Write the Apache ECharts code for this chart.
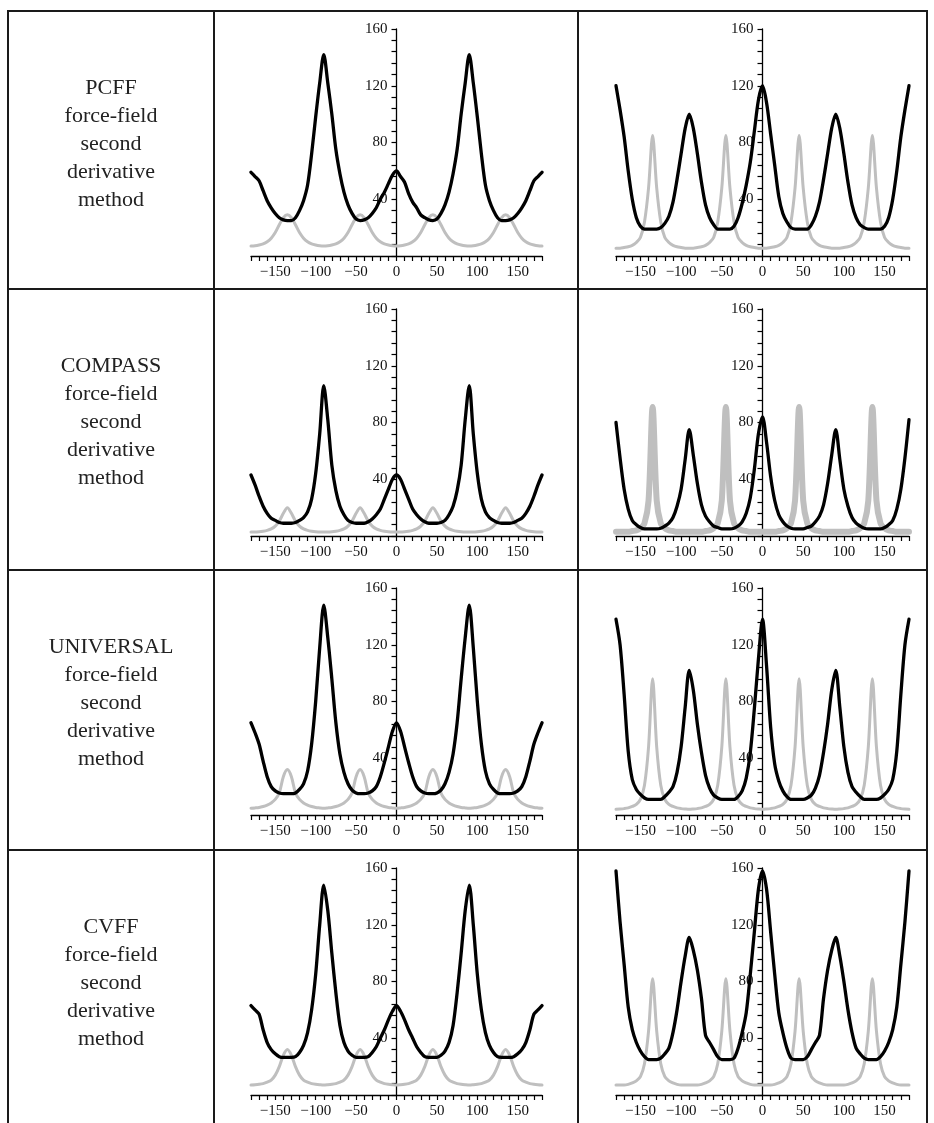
<!DOCTYPE html>
<html><head><meta charset="utf-8">
<script src="https://cdn.jsdelivr.net/npm/echarts@6/dist/echarts.min.js"></script>
<style>html,body{margin:0;padding:0;background:#fff}#c{width:934px;height:1123px}</style>
</head><body><div id="c"></div>
<script>
// ---------- data ----------
const angles = [
  -180,-175,-170,-165,-160,-155,-150,-145,-140,-135,-130,-125,-120,-115,-110,-105,-100,-95,
  -90,-85,-80,-75,-70,-65,-60,-55,-50,-45,-40,-35,-30,-25,-20,-15,-10,-5,
  0,5,10,15,20,25,30,35,40,45,50,55,60,65,70,75,80,85,
  90,95,100,105,110,115,120,125,130,135,140,145,150,155,160,165,170,175,180
];
const forceFields = ['PCFF', 'COMPASS', 'UNIVERSAL', 'CVFF'];
const descLines = ['force-field', 'second', 'derivative', 'method'];
const xTickLabels = [-150, -100, -50, 0, 50, 100, 150];
const yTickLabels = [40, 80, 120, 160];

// PCFF
const pcffLeftBlack = [
  59,56,53,46,39,34,30,27,25.5,25,25,27,32,39,50,72,98,122,
  142,122,100,75,58,45,36,30,26,25,25.5,27,30,34,40,45,51,57,
  60,56,52,44,38,34,29,27,25.5,25,26,30,36,45,58,75,100,122,
  142,122,98,72,50,39,32,27,25,25,25.5,27,30,34,39,46,53,56,59
];
const pcffLeftGray = [
  7,7.2,7.7,8.5,10,12.5,16.5,22,27,29,27,22,16.5,12.5,10,8.5,7.7,7.2,7,
  7.2,7.7,8.5,10,12.5,16.5,22,27,29,27,22,16.5,12.5,10,8.5,7.7,7.2,7,
  7.2,7.7,8.5,10,12.5,16.5,22,27,29,27,22,16.5,12.5,10,8.5,7.7,7.2,7,
  7.2,7.7,8.5,10,12.5,16.5,22,27,29,27,22,16.5,12.5,10,8.5,7.7,7.2,7
];
const pcffRightBlack = [
  120,103,84,60,40,27,21,19,19,19,19,20,23,28,38,54,72,90,
  100,90,72,52,36,27,22,19,19,19,19,21,27,37,50,66,88,110,
  120,108,86,64,42,30,24,20,19,19,19,19,22,28,38,54,72,90,
  100,90,72,52,36,27,22,20,19,19,19,19,21,27,40,60,84,103,120
];
const pcffRightGray = [
  5.5,5.5,6,6.5,7.5,9.5,13,24,48,85,48,24,13,9.5,7.5,6.5,6,5.5,5.5,
  5.5,6,6.5,7.5,9.5,13,24,48,85,48,24,13,9.5,7.5,6.5,6,5.5,5.5,
  5.5,6,6.5,7.5,9.5,13,24,48,85,48,24,13,9.5,7.5,6.5,6,5.5,5.5,
  5.5,6,6.5,7.5,9.5,13,24,48,85,48,24,13,9.5,7.5,6.5,6,5.5,5.5
];
// COMPASS
const compassLeftBlack = [
  43,36,28,21,16,12.5,11,9.5,9,9,9,9.5,11,13,17,26,44,72,
  106,82,50,32,21,15,11,9.5,9,9,9,10,12,15,19,26,33,40,
  43,40,33,26,19,15,12,10,9,9,9,9.5,11,15,21,32,50,82,
  106,72,44,26,17,13,11,9.5,9,9,9,9.5,11,12.5,16,21,28,36,43
];
const compassLeftGray = [
  2.8,2.8,3,3.4,4,5,7,10.5,16,20,16,10.5,7,5,4,3.4,3,2.8,2.8,
  2.8,3,3.4,4,5,7,10.5,16,20,16,10.5,7,5,4,3.4,3,2.8,2.8,
  2.8,3,3.4,4,5,7,10.5,16,20,16,10.5,7,5,4,3.4,3,2.8,2.8,
  2.8,3,3.4,4,5,7,10.5,16,20,16,10.5,7,5,4,3.4,3,2.8,2.8
];
const compassRightBlack = [
  80,55,33,19,11,8,6,5,5,5,5,5.5,7,9,13,21,33,54,
  75,57,37,22,14,10,7,6,5,5,5,5.5,7,10,16,27,47,72,
  84,66,42,25,15,10,7,5.5,5,5,5,6,7,10,14,22,37,57,
  75,54,33,21,13,9,7,5.5,5,5,5,5,6,8,11,19,33,55,82
];
const compassRightGray = [
  3,3,3,3,3.5,4,5.5,9,25,91,25,9,5.5,4,3.5,3,3,3,3,
  3,3,3,3.5,4,5.5,9,25,91,25,9,5.5,4,3.5,3,3,3,3,
  3,3,3,3.5,4,5.5,9,25,91,25,9,5.5,4,3.5,3,3,3,3,
  3,3,3,3.5,4,5.5,9,25,91,25,9,5.5,4,3.5,3,3,3,3
];
// UNIVERSAL
const universalLeftBlack = [
  65,58,50,38,27,20,17,15.5,15,15,15,15.5,18,22,31,50,80,118,
  148,125,96,65,43,30,22,17.5,15.5,15,15,15.5,17,20,27,37,48,59,
  65,59,48,37,27,20,17,15.5,15,15,15.5,17.5,22,30,43,65,96,125,
  148,118,80,50,31,22,18,15.5,15,15,15,15.5,17,20,27,38,50,58,65
];
const universalLeftGray = [
  4.8,5,5.3,6,7,8.5,11,15.5,27,32,27,15.5,11,8.5,7,6,5.3,5,4.8,
  5,5.3,6,7,8.5,11,15.5,27,32,27,15.5,11,8.5,7,6,5.3,5,4.8,
  5,5.3,6,7,8.5,11,15.5,27,32,27,15.5,11,8.5,7,6,5.3,5,4.8,
  5,5.3,6,7,8.5,11,15.5,27,32,27,15.5,11,8.5,7,6,5.3,5,4.8
];
const universalRightBlack = [
  138,120,85,45,25,18,14.5,12,11,11,11,11,13,16,20,30,48,76,
  102,88,64,44,28,19,14,12,11,11,11,11,13,17,26,44,75,110,
  138,105,62,36,24,17,13,11,11,11,11,12,14,19,28,44,64,88,
  102,76,48,30,20,16,13,11,11,11,11,12,14.5,18,25,45,85,120,138
];
const universalRightGray = [
  4,4.2,4.5,5,6,7.5,11,21,48,96,48,21,11,7.5,6,5,4.5,4.2,4,
  4.2,4.5,5,6,7.5,11,21,48,96,48,21,11,7.5,6,5,4.5,4.2,4,
  4.2,4.5,5,6,7.5,11,21,48,96,48,21,11,7.5,6,5,4.5,4.2,4,
  4.2,4.5,5,6,7.5,11,21,48,96,48,21,11,7.5,6,5,4.5,4.2,4
];
// CVFF
const cvffLeftBlack = [
  63,60,57,46,37,32,29,27,26.5,26.5,26.5,27,30,35,44,60,85,120,
  148,130,100,72,49,37,31,28,26.5,26.5,26.5,27,30,34,40,46,53,59,
  63,59,53,46,40,34,30,27,26.5,26.5,26.5,28,31,37,49,72,100,130,
  148,120,85,60,44,35,30,27,26.5,26.5,26.5,27,29,32,37,46,57,60,63
];
const cvffLeftGray = [
  7,7.2,7.5,8,9,10.5,14,20,28,32,28,20,14,10.5,9,8,7.5,7.2,7,
  7.2,7.5,8,9,10.5,14,20,28,32,28,20,14,10.5,9,8,7.5,7.2,7,
  7.2,7.5,8,9,10.5,14,20,28,32,28,20,14,10.5,9,8,7.5,7.2,7,
  7.2,7.5,8,9,10.5,14,20,28,32,28,20,14,10.5,9,8,7.5,7.2,7
];
const cvffRightBlack = [
  158,122,92,62,46,37,31,27,25,25,25,26,29,33,44,60,80,98,
  111,102,88,68,42,37,32,27,25,25,25,26,33,44,58,85,115,145,
  158,145,115,85,58,44,33,26,25,25,25,27,32,37,42,68,88,102,
  111,98,80,60,44,33,29,26,25,25,25,27,31,37,46,62,92,122,158
];
const cvffRightGray = [
  7,7,7,7.5,8.5,10,13,22,45,82,45,22,13,10,8.5,7.5,7,7,7,
  7,7,7.5,8.5,10,13,22,45,82,45,22,13,10,8.5,7.5,7,7,7,
  7,7,7.5,8.5,10,13,22,45,82,45,22,13,10,8.5,7.5,7,7,7,
  7,7,7.5,8.5,10,13,22,45,82,45,22,13,10,8.5,7.5,7,7,7
];

// ---------- layout ----------
const panels = [
  [{black: pcffLeftBlack, gray: pcffLeftGray, gw: 3}, {black: pcffRightBlack, gray: pcffRightGray, gw: 3}],
  [{black: compassLeftBlack, gray: compassLeftGray, gw: 3}, {black: compassRightBlack, gray: compassRightGray, gw: 6}],
  [{black: universalLeftBlack, gray: universalLeftGray, gw: 3}, {black: universalRightBlack, gray: universalRightGray, gw: 3}],
  [{black: cvffLeftBlack, gray: cvffLeftGray, gw: 3}, {black: cvffRightBlack, gray: cvffRightGray, gw: 3}]
];
const rowTops = [11, 289, 570, 850];
const gridTops = [29, 309, 588, 868];
const gridH = 227;
const colLefts = [251, 616];
const colWidths = [291, 293];
const vLines = [8, 214, 578, 927];
const FONT = '"Liberation Serif", "Times New Roman", serif';

const grids = [], xAxes = [], yAxes = [], series = [];
let gi = 0;
for (let r = 0; r < 4; r++) {
  for (let c = 0; c < 2; c++) {
    grids.push({left: colLefts[c], top: gridTops[r], width: colWidths[c], height: gridH, outerBoundsMode: 'none'});
    xAxes.push({
      gridIndex: gi, type: 'value', min: -180, max: 180, interval: 10,
      axisLine: {show: true, onZero: false, lineStyle: {color: '#000', width: 1.3}},
      axisTick: {show: true, length: 5, inside: false, lineStyle: {color: '#000', width: 1.2}},
      axisLabel: {
        show: true, margin: 9, color: '#111', fontFamily: FONT, fontSize: 15,
        formatter: v => xTickLabels.includes(v) ? (v < 0 ? '\u2212' + (-v) : String(v)) : ''
      },
      splitLine: {show: false}
    });
    yAxes.push({
      gridIndex: gi, type: 'value', min: 0, max: 160, interval: 8,
      position: 'left', offset: -colWidths[c] / 2,
      axisLine: {show: true, onZero: false, lineStyle: {color: '#000', width: 1.3}},
      axisTick: {show: true, length: 5, inside: false, lineStyle: {color: '#000', width: 1.2}},
      axisLabel: {
        show: true, margin: 9, color: '#111', fontFamily: FONT, fontSize: 15,
        formatter: v => yTickLabels.includes(v) ? String(v) : ''
      },
      splitLine: {show: false}
    });
    const p = panels[r][c];
    series.push({
      type: 'line', xAxisIndex: gi, yAxisIndex: gi, silent: true, symbol: 'none', showSymbol: false,
      smooth: 0.3,
      data: angles.map((a, k) => [a, p.gray[k]]),
      lineStyle: {color: '#bfbfbf', width: p.gw, join: 'round', cap: 'round'}, z: 3
    });
    series.push({
      type: 'line', xAxisIndex: gi, yAxisIndex: gi, silent: true, symbol: 'none', showSymbol: false,
      smooth: 0.3,
      data: angles.map((a, k) => [a, p.black[k]]),
      lineStyle: {color: '#000', width: 3.3, join: 'round', cap: 'round'}, z: 4
    });
    gi++;
  }
}

const graphics = [];
rowTops.forEach(y => {
  graphics.push({type: 'line', shape: {x1: vLines[0] - 1, y1: y, x2: vLines[3] + 1, y2: y},
    style: {stroke: '#1a1a1a', lineWidth: 2}, z: 10});
});
vLines.forEach(x => {
  graphics.push({type: 'line', shape: {x1: x, y1: rowTops[0], x2: x, y2: 1123},
    style: {stroke: '#1a1a1a', lineWidth: 2}, z: 10});
});
forceFields.forEach((name, r) => {
  [name].concat(descLines).forEach((t, i) => {
    graphics.push({type: 'text', x: 111, y: rowTops[r] + 77.3 + 28 * i,
      style: {text: t, fill: '#222', font: '22px ' + FONT, textAlign: 'center', textVerticalAlign: 'middle', verticalAlign: 'middle'}, z: 10});
  });
});

const chart = echarts.init(document.getElementById('c'), null, {renderer: 'canvas'});
chart.setOption({
  animation: false,
  backgroundColor: '#fff',
  grid: grids, xAxis: xAxes, yAxis: yAxes, series: series,
  graphic: graphics
});
</script>
</body></html>
